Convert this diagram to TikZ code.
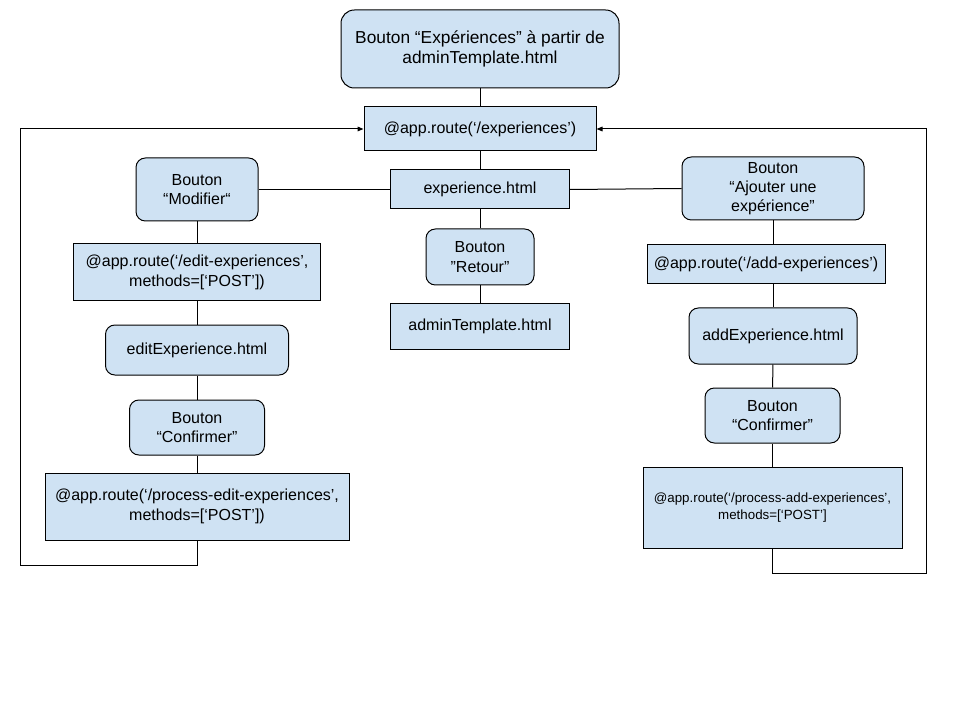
\documentclass[tikz,border=0pt]{standalone}
\usepackage{fontspec}
\setmainfont{Liberation Sans}
\usetikzlibrary{arrows.meta}
\definecolor{boxfill}{HTML}{CFE2F3}
\tikzset{
  sz/.style 2 args={minimum width=#1*0.75pt, minimum height=#2*0.75pt},
  sbox/.style={draw=black, line width=0.75pt, fill=boxfill, inner sep=0pt, align=center,
     font=\fontsize{12}{14.5}\selectfont},
  rbox/.style={sbox, rounded corners=7pt},
  link/.style={line width=0.75pt, draw=black},
  arr/.style={link, -{Triangle[length=4.5pt,width=3.5pt]}},
}
\begin{document}
\begin{tikzpicture}[x=0.75pt, y=-0.75pt]
\useasboundingbox (0,0) rectangle (960,720);
\fill[white] (0,0) rectangle (960,720);

% centre column
\node[rbox, sz={278}{78}, rounded corners=10pt, font=\fontsize{13}{15.5}\selectfont] (top) at (480,49) {Bouton “Expériences” à partir de\\adminTemplate.html};
\node[sbox, sz={232}{44}] (r1) at (480,129) {@app.route(‘/experiences’)};
\node[sbox, sz={179}{39}] (exp) at (480,189.5) {experience.html};
\node[rbox, sz={108}{56}] (ret) at (480,257) {Bouton\\\symbol{34}Retour\symbol{34}};
\node[sbox, sz={179}{45}] (adm) at (480,326.5) {adminTemplate.html};

% left column
\node[rbox, sz={122}{63}] (mod) at (197,189.5) {Bouton\\“Modifier“};
\node[sbox, sz={247}{57}] (er) at (197,272.5) {@app.route(‘/edit-experiences’,\\methods=[‘POST’])};
\node[rbox, sz={183}{50}] (ee) at (197,350) {editExperience.html};
\node[rbox, sz={135}{55}] (cl) at (197,427.5) {Bouton\\“Confirmer”};
\node[sbox, sz={304}{67}] (pe) at (197,506.5) {@app.route(‘/process-edit-experiences’,\\methods=[‘POST’])};

% right column
\node[rbox, sz={182}{63}] (aj) at (773,188.5) {Bouton\\“Ajouter une\\expérience\symbol{34}};
\node[sbox, sz={238}{39}] (ar) at (766,264.5) {@app.route(‘/add-experiences’)};
\node[rbox, sz={168}{56}] (ae) at (773,336) {addExperience.html};
\node[rbox, sz={135}{55}] (cr) at (772.5,415.5) {Bouton\\“Confirmer”};
\node[sbox, sz={259}{81}, font=\fontsize{10}{12.5}\selectfont] (pa) at (772.5,507.5) {@app.route(‘/process-add-experiences’,\\methods=[‘POST’]};

\coordinate (lb) at (20,565);
\coordinate (rb) at (926,573);

% connectors centre
\draw[link] (top) -- (r1);
\draw[link] (r1) -- (exp);
\draw[link] (exp) -- (ret);
\draw[link] (ret) -- (adm);
\draw[link] (mod.east) -- (exp.west);
\draw[link] (exp.east) -- (aj.west);

% left chain
\draw[link] (mod) -- (er);
\draw[link] (er) -- (ee);
\draw[link] (ee) -- (cl);
\draw[link] (cl) -- (pe);
\draw[arr] (pe.south) |- (lb) |- (r1.west);

% right chain
\draw[link] (aj.south) -- (aj.south |- ar.north);
\draw[link] (ar.south -| ae.north) -- (ae.north);
\draw[link] (ae) -- (cr);
\draw[link] (cr) -- (pa);
\draw[arr] (pa.south) |- (rb) |- (r1.east);
\end{tikzpicture}
\end{document}
